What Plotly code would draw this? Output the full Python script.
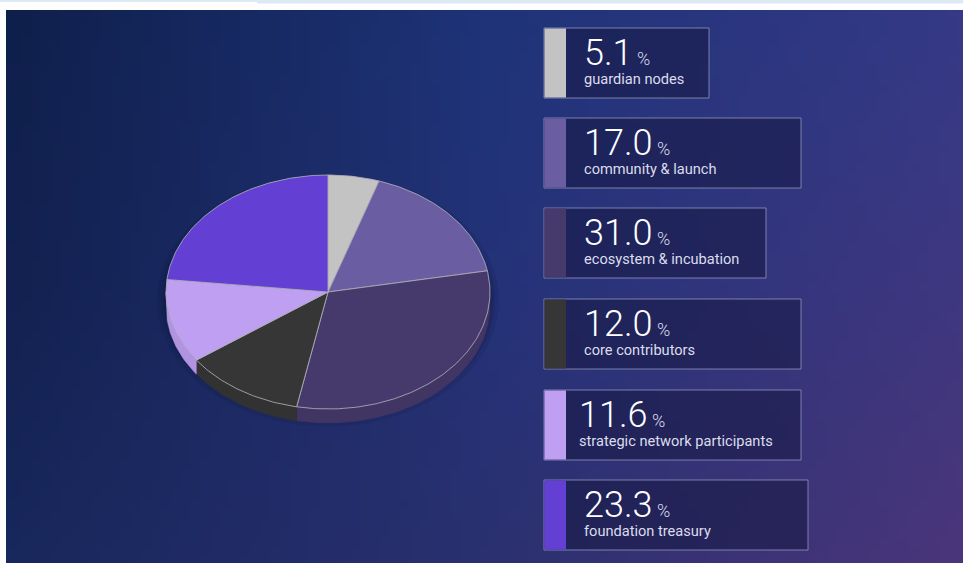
import base64
import struct
import zlib

import numpy as np
import plotly.graph_objects as go

# ---------------- data ----------------
labels = ["guardian nodes", "community & launch", "ecosystem & incubation",
          "core contributors", "strategic network participants", "foundation treasury"]
values = [5.1, 17.0, 31.0, 12.0, 11.6, 23.3]
colors = ["#c3c3c3", "#6b5da2", "#46396c", "#363636", "#bf9ff2", "#643fd3"]

# ---------------- geometry / style (pixel coordinates) ----------------
W, H = 963, 563
BG_X, BG_Y = 6, 10
CX, CY, RX, RY, DEPTH = 328, 292, 162, 117, 14
BOX_X = 544
BOX_TOP = [28, 118, 208, 299, 390, 480]
BOX_W = [165, 257, 222, 257, 257, 264]
BOX_H = 70
STRIP_W = 22
TEXT_PAD = [18, 18, 18, 18, 13, 18]


def shade(hex_color, f):
    h = hex_color.lstrip("#")
    r, g, b = (int(h[i:i + 2], 16) for i in (0, 2, 4))
    return "rgb(%d,%d,%d)" % (min(255, r * f), min(255, g * f), min(255, b * f))


# ---------------- background gradient (PNG) ----------------
grid = [
    [(15, 31, 76), (30, 51, 120), (53, 57, 134)],
    [(18, 33, 80), (36, 50, 120), (62, 55, 128)],
    [(24, 39, 92), (42, 48, 112), (74, 53, 122)],
]


def bg_color(u, v):
    gx = u * 2
    gy = v * 2
    i = min(int(gx), 1)
    j = min(int(gy), 1)
    fx, fy = gx - i, gy - j
    out = []
    for c in range(3):
        a = grid[j][i][c] * (1 - fx) + grid[j][i + 1][c] * fx
        b = grid[j + 1][i][c] * (1 - fx) + grid[j + 1][i + 1][c] * fx
        out.append(int(round(a * (1 - fy) + b * fy)))
    return out


def make_png(w, h):
    rows = []
    for y in range(h):
        row = bytearray([0])
        for x in range(w):
            row.extend(bg_color(x / (w - 1), y / (h - 1)))
        rows.append(bytes(row))
    raw = b"".join(rows)

    def chunk(t, d):
        c = struct.pack(">I", len(d)) + t + d
        return c + struct.pack(">I", zlib.crc32(t + d) & 0xFFFFFFFF)

    return (b"\x89PNG\r\n\x1a\n"
            + chunk(b"IHDR", struct.pack(">IIBBBBB", w, h, 8, 2, 0, 0, 0))
            + chunk(b"IDAT", zlib.compress(raw, 9))
            + chunk(b"IEND", b""))


png_uri = "data:image/png;base64," + base64.b64encode(make_png(96, 56)).decode()

fig = go.Figure()


def arc(a0, a1, dy=0.0):
    n = max(2, int(abs(a1 - a0)) + 2)
    t = np.radians(np.linspace(a0, a1, n))
    return list(CX + RX * np.sin(t)), list(CY - RY * np.cos(t) + dy)


# shadow
for grow, alpha in [(9, 0.09), (5, 0.11), (2, 0.14)]:
    t = np.radians(np.linspace(0, 360, 181))
    fig.add_trace(go.Scatter(
        x=CX + (RX + grow) * np.sin(t), y=CY + DEPTH * 0.6 - (RY + grow) * np.cos(t),
        mode="lines", fill="toself", fillcolor="rgba(5,8,30,%.2f)" % alpha,
        line=dict(width=0), hoverinfo="skip", showlegend=False))

total = sum(values)
angles = [0.0]
for v in values:
    angles.append(angles[-1] + 360.0 * v / total)

# sides (front half only: 90..270 deg)
for k, col in enumerate(colors):
    a0, a1 = max(angles[k], 90.0), min(angles[k + 1], 270.0)
    if a1 <= a0:
        continue
    tx, ty = arc(a0, a1)
    bx, by = arc(a1, a0, DEPTH)
    fig.add_trace(go.Scatter(
        x=tx + bx + [tx[0]], y=ty + by + [ty[0]], mode="lines", fill="toself",
        fillcolor=shade(col, 0.93), line=dict(width=0.5, color=shade(col, 0.93)),
        hoverinfo="skip", showlegend=False))

# top face slices
for k, col in enumerate(colors):
    ax, ay = arc(angles[k], angles[k + 1])
    fig.add_trace(go.Scatter(
        x=[CX] + ax + [CX], y=[CY] + ay + [CY], mode="lines", fill="toself",
        fillcolor=col, line=dict(width=1, color="rgba(175,175,185,0.85)"),
        hoverinfo="skip", showlegend=False, name=labels[k]))

shapes = [
    dict(type="rect", xref="x", yref="y", x0=0, x1=257, y0=0, y1=2,
         fillcolor="#dde9f5", line=dict(width=0), layer="above"),
    dict(type="rect", xref="x", yref="y", x0=257, x1=W, y0=0, y1=3.5,
         fillcolor="#dde9f5", line=dict(width=0), layer="above"),
]
annotations = []
for k, (lab, v, col) in enumerate(zip(labels, values, colors)):
    top = BOX_TOP[k]
    shapes.append(dict(type="rect", xref="x", yref="y", x0=BOX_X, x1=BOX_X + BOX_W[k],
                       y0=top, y1=top + BOX_H, fillcolor="rgba(22,24,66,0.55)",
                       line=dict(width=1, color="rgba(140,142,185,0.85)")))
    shapes.append(dict(type="rect", xref="x", yref="y", x0=BOX_X + 0.5, x1=BOX_X + STRIP_W,
                       y0=top + 0.5, y1=top + BOX_H - 0.5, fillcolor=col, line=dict(width=0)))
    tx = BOX_X + STRIP_W + TEXT_PAD[k] - 2
    annotations.append(dict(
        x=tx, y=top + 25, xref="x", yref="y", xanchor="left", yanchor="middle",
        text="%.1f<span style='font-size:18px;fill:#d8d8e8'> %%</span>" % v, showarrow=False,
        font=dict(family="Roboto", size=36, weight=300, color="#ffffff")))
    annotations.append(dict(
        x=tx, y=top + 51, xref="x", yref="y", xanchor="left", yanchor="middle",
        text=lab, showarrow=False,
        font=dict(family="Roboto", size=14.6, color="#dcdcec")))

fig.update_layout(
    width=W, height=H, margin=dict(l=0, r=0, t=0, b=0),
    paper_bgcolor="#ffffff", plot_bgcolor="rgba(0,0,0,0)",
    xaxis=dict(range=[0, W], visible=False, fixedrange=True),
    yaxis=dict(range=[H, 0], visible=False, fixedrange=True),
    images=[dict(source=png_uri, xref="x", yref="y", x=BG_X, y=BG_Y,
                 sizex=W - BG_X, sizey=H - BG_Y, sizing="stretch",
                 xanchor="left", yanchor="top", layer="below")],
    shapes=shapes, annotations=annotations, showlegend=False,
)

fig.write_html("out.html", config={"displayModeBar": False},
               post_script="document.body.style.margin='0';document.body.style.overflow='hidden';")
